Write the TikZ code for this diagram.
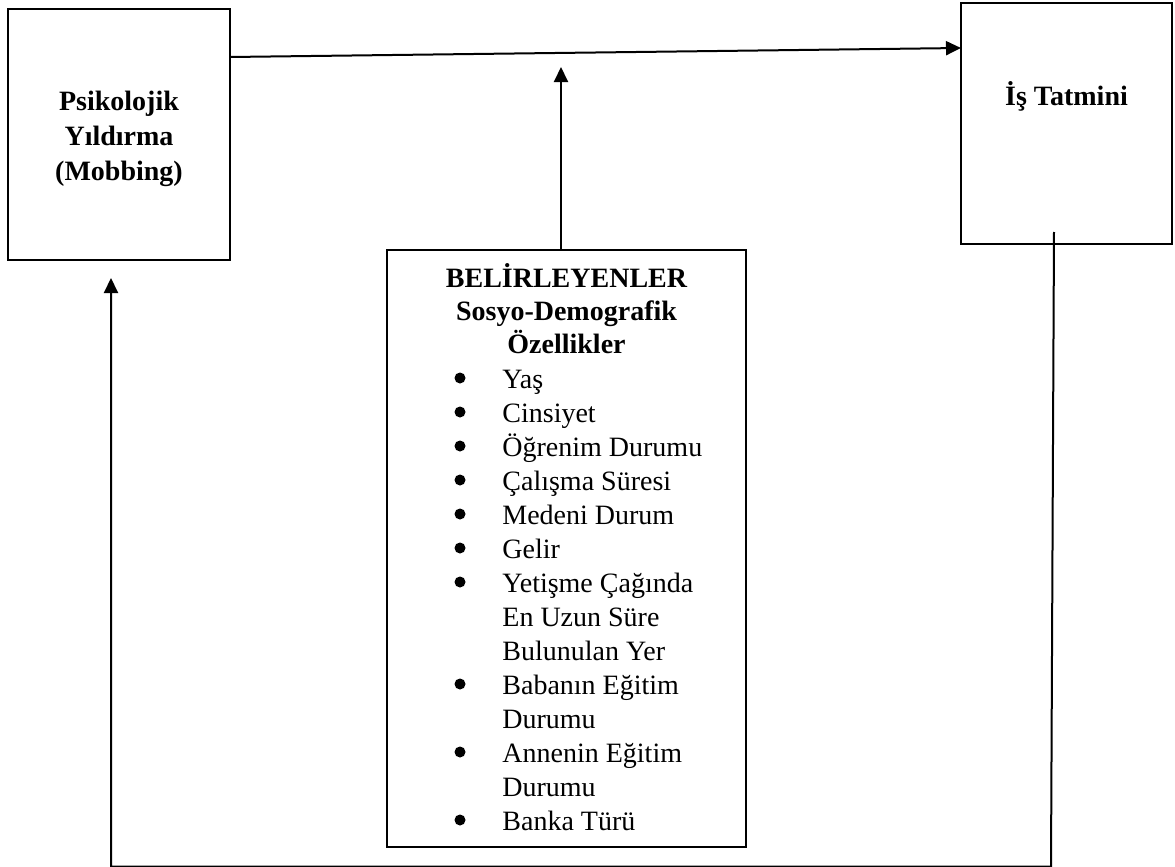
\documentclass[tikz,border=0pt]{standalone}
\usepackage{fontspec}
\setmainfont{Liberation Serif}
\usetikzlibrary{arrows.meta}
\begin{document}
\begin{tikzpicture}[x=0.5pt,y=-0.5pt,
  box/.style={draw, line width=1pt, inner sep=0pt, outer sep=0pt},
  conn/.style={line width=1pt},
  arr/.style={-{Triangle[length=7.5pt,width=7pt]}},
  hd/.style={font=\fontsize{14}{17}\selectfont\bfseries, anchor=base, inner sep=0pt},
  itm/.style={font=\fontsize{14}{17}\selectfont, anchor=base west, inner sep=0pt},
  bul/.style={circle, fill, inner sep=0pt, minimum size=5.5pt}]
\useasboundingbox (0,0) rectangle (1175,867);
% boxes
\node[box, minimum width=111pt, minimum height=125.5pt] (L) at (119,134.5) {};
\node[box, minimum width=105.5pt, minimum height=120.5pt] (R) at (1066.5,123.5) {};
\node[box, minimum width=179.5pt, minimum height=298.5pt] (M) at (566.5,548.5) {};
% left box text
\node[hd] (l1) at (119,110) {Psikolojik};
\node[hd] (l2) at (119,145) {Yıldırma};
\node[hd] (l3) at (119,180) {(Mobbing)};
% right box text
\node[hd] (r1) at (1066.5,105) {İş Tatmini};
% middle box headings
\node[hd] (h1) at (566.5,287) {BELİRLEYENLER};
\node[hd] (h2) at (566.5,320) {Sosyo-Demografik};
\node[hd] (h3) at (566.5,353) {Özellikler};
% list items
\node[itm] (i0) at (502,388) {Yaş};
\node[itm] (i1) at (502,422) {Cinsiyet};
\node[itm] (i2) at (502,456) {Öğrenim Durumu};
\node[itm] (i3) at (502,490) {Çalışma Süresi};
\node[itm] (i4) at (502,524) {Medeni Durum};
\node[itm] (i5) at (502,558) {Gelir};
\node[itm] (i6) at (502,592) {Yetişme Çağında};
\node[itm] (i7) at (502,626) {En Uzun Süre};
\node[itm] (i8) at (502,660) {Bulunulan Yer};
\node[itm] (i9) at (502,694) {Babanın Eğitim};
\node[itm] (i10) at (502,728) {Durumu};
\node[itm] (i11) at (502,762) {Annenin Eğitim};
\node[itm] (i12) at (502,796) {Durumu};
\node[itm] (i13) at (502,830) {Banka Türü};
% bullets
\foreach \yy/\nm in {388/b0,422/b1,456/b2,490/b3,524/b4,558/b5,592/b6,694/b9,762/b11,830/b13}
  \node[bul] (\nm) at (460,\yy-10) {};
% connectors
\draw[conn,arr] ([yshift=-24pt]L.north east) -- ([yshift=-22.5pt]R.north west);
\coordinate (tipM) at (561,67);
\draw[conn,arr] ([xshift=-2.75pt]M.north) -- (tipM);
\coordinate (fbStart) at ([xshift=-6.25pt,yshift=6pt]R.south);
\coordinate (c1) at (1051,866.5);
\coordinate (c2) at (111,866.5);
\coordinate (tipL) at (111,278);
\draw[conn,arr] (fbStart) -- (c1) -- (c2) -- (tipL);
\end{tikzpicture}
\end{document}
